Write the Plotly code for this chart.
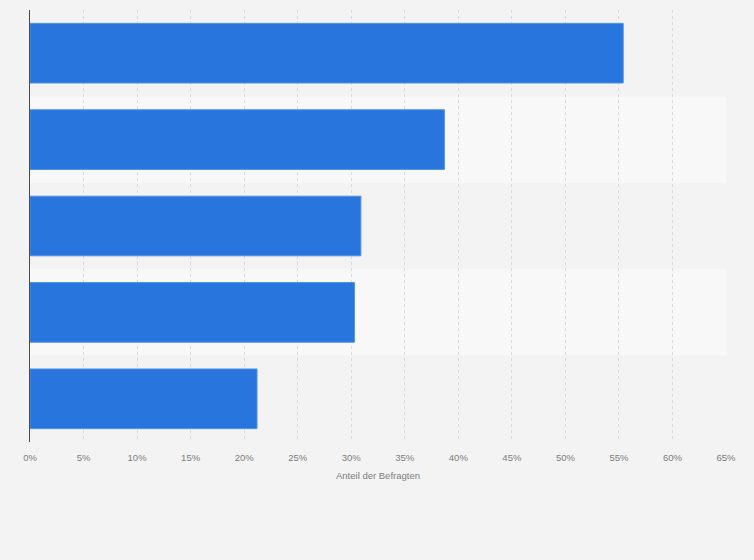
import plotly.graph_objects as go

categories = ["Kategorie 1", "Kategorie 2", "Kategorie 3", "Kategorie 4", "Kategorie 5"]
values = [55.4, 38.7, 30.9, 30.3, 21.2]
tick_values = [0, 5, 10, 15, 20, 25, 30, 35, 40, 45, 50, 55, 60, 65]
tick_labels = [f"{v}%" for v in tick_values]
x_title = "Anteil der Befragten"

BG = "#f3f3f3"
BAND_LIGHT = "#f8f8f8"
BAR = "#2876dd"
TXT = "#7c7c7c"

fig = go.Figure()
fig.add_trace(go.Bar(
    y=categories, x=values, orientation="h",
    marker=dict(color=BAR, line=dict(color="#4d8fe6", width=1)),
    width=0.69, hoverinfo="x+y",
))

shapes = []
for i, c in enumerate(categories):
    if i % 2 == 1:
        shapes.append(dict(type="rect", xref="paper", yref="y", x0=0, x1=1,
                           y0=i - 0.5, y1=i + 0.5, fillcolor=BAND_LIGHT,
                           line=dict(width=0), layer="below"))
fig.update_layout(
    width=754, height=560,
    margin=dict(l=30, r=28, t=10, b=118),
    paper_bgcolor=BG, plot_bgcolor=BG,
    shapes=shapes,
    showlegend=False,
    font=dict(family="Liberation Sans, Arial, sans-serif", size=10, color=TXT),
    xaxis=dict(range=[0, 65], tickvals=tick_values, ticktext=tick_labels,
               showgrid=True, gridcolor="#d9d9d9", griddash="dot", gridwidth=1,
               zeroline=False, showline=False, ticks="",
               ticklabelstandoff=8,
               tickfont=dict(size=9.5, color=TXT),
               title=dict(text=x_title, font=dict(size=9.5, color=TXT), standoff=10),
               layer="below traces"),
    yaxis=dict(categoryorder="array", categoryarray=categories, autorange="reversed",
               showticklabels=False, ticks="", showgrid=False, zeroline=False,
               showline=True, linecolor="#4a4a4a", linewidth=1),
)

fig.write_html("out.html", config={"displayModeBar": False},
               post_script="document.body.style.margin='0';document.body.style.background='#f3f3f3';")
